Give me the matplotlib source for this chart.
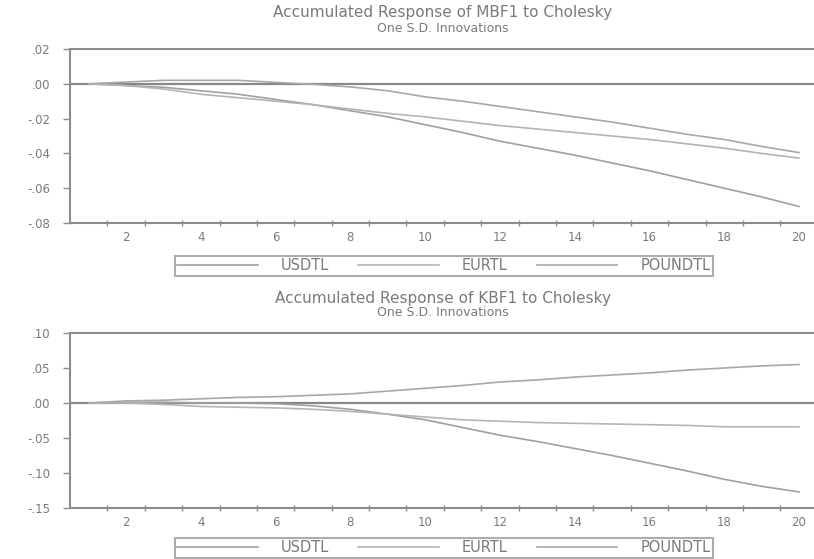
import numpy as np
import matplotlib
matplotlib.use("Agg")
import matplotlib.pyplot as plt
from matplotlib.ticker import FixedLocator, FuncFormatter

periods = list(range(1, 21))
series_names = ["USDTL", "EURTL", "POUNDTL"]

# Accumulated response of MBF1
mbf1_usdtl = [0.0, -0.001, -0.002, -0.004, -0.006, -0.009, -0.012, -0.0155, -0.019, -0.0235,
              -0.028, -0.033, -0.037, -0.041, -0.0455, -0.050, -0.055, -0.060, -0.065, -0.0705]
mbf1_eurtl = [0.0, -0.001, -0.003, -0.006, -0.008, -0.010, -0.012, -0.0145, -0.017, -0.019,
              -0.0215, -0.024, -0.026, -0.028, -0.030, -0.032, -0.0345, -0.037, -0.040, -0.0427]
mbf1_poundtl = [0.0, 0.001, 0.002, 0.002, 0.002, 0.0008, -0.0003, -0.0018, -0.004, -0.0075,
                -0.010, -0.013, -0.016, -0.019, -0.022, -0.0255, -0.029, -0.032, -0.036, -0.0395]

# Accumulated response of KBF1
kbf1_usdtl = [0.0, 0.001, 0.001, 0.0, 0.0, -0.001, -0.004, -0.009, -0.016, -0.024,
              -0.035, -0.046, -0.055, -0.065, -0.075, -0.086, -0.097, -0.109, -0.119, -0.127]
kbf1_eurtl = [0.0, 0.0, -0.002, -0.005, -0.006, -0.007, -0.009, -0.012, -0.016, -0.020,
              -0.024, -0.026, -0.028, -0.029, -0.030, -0.031, -0.032, -0.034, -0.034, -0.034]
kbf1_poundtl = [0.0, 0.003, 0.004, 0.006, 0.008, 0.009, 0.011, 0.013, 0.017, 0.021,
                0.025, 0.030, 0.033, 0.037, 0.040, 0.043, 0.047, 0.050, 0.053, 0.055]

top_yticks = [0.02, 0.00, -0.02, -0.04, -0.06, -0.08]
bot_yticks = [0.10, 0.05, 0.00, -0.05, -0.10, -0.15]
xtick_labels = [2, 4, 6, 8, 10, 12, 14, 16, 18, 20]

titles = [("Accumulated Response of MBF1 to Cholesky", "One S.D. Innovations"),
          ("Accumulated Response of KBF1 to Cholesky", "One S.D. Innovations")]

plt.rcParams['font.family'] = ['DejaVu Sans']
GRAY = "#8c8c8c"
TXT = "#7a7a7a"
line_colors = ["#a0a0a0", "#b4b4b4", "#a8a8a8"]

W, H = 814, 559
fig = plt.figure(figsize=(W / 100, H / 100), dpi=100)

def fmt(v, pos):
    s = f"{v:.2f}"
    if s.startswith("-0"):
        s = "-" + s[2:]
    elif s.startswith("0"):
        s = s[1:]
    return s

def make_axes(top_px, bot_px):
    left = 70 / W
    right = 817.7 / W
    return fig.add_axes([left, 1 - bot_px / H, right - left, (bot_px - top_px) / H])

panels = [
    (make_axes(49, 223), [mbf1_usdtl, mbf1_eurtl, mbf1_poundtl], top_yticks, (-0.08, 0.02), 13, 28, 266),
    (make_axes(333, 508), [kbf1_usdtl, kbf1_eurtl, kbf1_poundtl], bot_yticks, (-0.15, 0.10), 298, 313, 548),
]

for i, (ax, data, yt, ylim, ty1, ty2, ly) in enumerate(panels):
    handles = []
    for name, vals, c in zip(series_names, data, line_colors):
        h, = ax.plot(periods, vals, color=c, lw=1.2, label=name)
        handles.append(h)
    ax.axhline(0, color="#888888", lw=1.6, zorder=1)
    ax.set_xlim(0.5, 20.5)
    ax.set_ylim(*ylim)
    ax.yaxis.set_major_locator(FixedLocator(yt))
    ax.yaxis.set_major_formatter(FuncFormatter(fmt))
    ax.xaxis.set_major_locator(FixedLocator(xtick_labels))
    ax.xaxis.set_minor_locator(FixedLocator([k + 0.5 for k in range(1, 21)]))
    ax.tick_params(axis='x', which='major', length=0, pad=6, labelsize=8.5, labelcolor=TXT)
    ax.tick_params(axis='x', which='minor', length=4, direction='inout', color=GRAY, width=1)
    ax.tick_params(axis='y', length=5, direction='out', color=GRAY, width=1,
                   labelsize=8.5, labelcolor=TXT, pad=9)
    for s in ['left', 'bottom', 'top']:
        ax.spines[s].set_color(GRAY)
        ax.spines[s].set_linewidth(1.5)
    ax.spines['right'].set_visible(False)
    fig.text(443 / W, 1 - ty1 / H, titles[i][0], ha='center', va='center',
             fontsize=11, color=TXT)
    fig.text(443 / W, 1 - ty2 / H, titles[i][1], ha='center', va='center',
             fontsize=9, color=TXT)
    leg = fig.legend(handles=handles, labels=series_names, ncol=3,
                     loc='center', bbox_to_anchor=(444 / W, 1 - ly / H),
                     frameon=True, fancybox=False, fontsize=10.5, handlelength=5.5,
                     columnspacing=2.0, handletextpad=1.6, borderpad=0.2,
                     labelcolor=TXT)
    leg.get_frame().set_edgecolor("#999999")
    leg.get_frame().set_linewidth(1.5)

fig.savefig("out.png", dpi=100)
